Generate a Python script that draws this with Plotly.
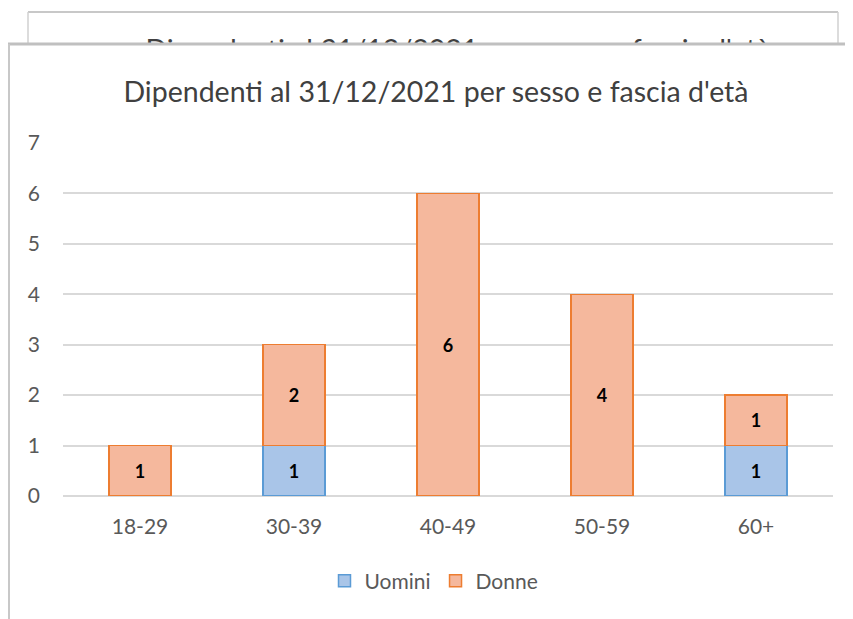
import plotly.graph_objects as go

categories = ["18-29", "30-39", "40-49", "50-59", "60+"]
uomini = [0, 1, 0, 0, 1]
donne = [1, 2, 6, 4, 1]
title_text = "Dipendenti al 31/12/2021 per sesso e fascia d'età"

W, H = 853, 619
OFF = 8  # page body margin
def px_x(x): return (x - OFF) / W
def px_y(y): return (H - (y - OFF)) / H

FONT = "Lato"
GREY = "#595959"

fig = go.Figure()
fig.add_trace(go.Bar(
    name="Uomini", x=categories, y=uomini,
    text=[str(v) if v else "" for v in uomini],
    textposition="inside", insidetextanchor="middle",
    textfont=dict(color="#000000", size=18, family=FONT, weight="bold"),
    marker=dict(color="#A9C5E8", line=dict(color="#5B9BD5", width=1.5)),
))
fig.add_trace(go.Bar(
    name="Donne", x=categories, y=donne,
    text=[str(v) if v else "" for v in donne],
    textposition="inside", insidetextanchor="middle",
    textfont=dict(color="#000000", size=18, family=FONT, weight="bold"),
    marker=dict(color="#F5B89D", line=dict(color="#ED7D31", width=1.5)),
))

# partially hidden title of the chart behind (clipped)
fig.add_trace(go.Scatter(
    x=[(458 - 28) / 810], y=[-0.28], mode="text", text=[title_text],
    textfont=dict(size=28.5, color="#404040", family=FONT),
    xaxis="x2", yaxis="y2", cliponaxis=True, showlegend=False, hoverinfo="skip",
))

fig.update_layout(
    width=W, height=H,
    margin=dict(l=0, r=0, t=0, b=0, autoexpand=False),
    paper_bgcolor="white", plot_bgcolor="white",
    barmode="stack", bargap=0.6,
    font=dict(family=FONT, color=GREY, size=20),
    xaxis=dict(domain=[px_x(63), px_x(833)], showgrid=False, showline=False, automargin=False,
               ticks="", ticklabelstandoff=16, tickfont=dict(size=21, color=GREY)),
    yaxis=dict(domain=[px_y(496), px_y(143)], range=[0, 7], dtick=1, automargin=False,
               showgrid=True, gridcolor="#D9D9D9", gridwidth=1.5,
               zeroline=True, zerolinecolor="#D9D9D9", zerolinewidth=1.5,
               showline=False, ticks="", ticklabelstandoff=22,
               tickfont=dict(size=21, color=GREY)),
    xaxis2=dict(domain=[px_x(28), px_x(838)], range=[0, 1], visible=False, anchor="y2"),
    yaxis2=dict(domain=[px_y(44), px_y(12)], range=[0, 1], visible=False, anchor="x2"),
    legend=dict(orientation="h", x=px_x(434), xanchor="center", y=px_y(581), yanchor="middle",
                font=dict(size=21, color=GREY), itemwidth=30, traceorder="normal"),
    title=dict(text=title_text, x=px_x(436), xanchor="center", y=px_y(92), yanchor="middle",
               font=dict(size=28.5, color="#404040", family=FONT)),
    shapes=[
        # back panel border
        dict(type="line", xref="paper", yref="paper", x0=px_x(28), x1=px_x(838), y0=px_y(12), y1=px_y(12),
             line=dict(color="#C8C8C8", width=2)),
        dict(type="line", xref="paper", yref="paper", x0=px_x(28), x1=px_x(28), y0=px_y(12), y1=px_y(44),
             line=dict(color="#D0D0D0", width=1.5)),
        dict(type="line", xref="paper", yref="paper", x0=px_x(838), x1=px_x(838), y0=px_y(12), y1=px_y(44),
             line=dict(color="#D0D0D0", width=1.5)),
        # front panel border
        dict(type="line", xref="paper", yref="paper", x0=px_x(8), x1=1, y0=px_y(44), y1=px_y(44),
             line=dict(color="#C0C0C0", width=3)),
        dict(type="line", xref="paper", yref="paper", x0=px_x(9), x1=px_x(9), y0=px_y(44), y1=0,
             line=dict(color="#C8C8C8", width=2)),
    ],
)

fig.write_html("out.html")
